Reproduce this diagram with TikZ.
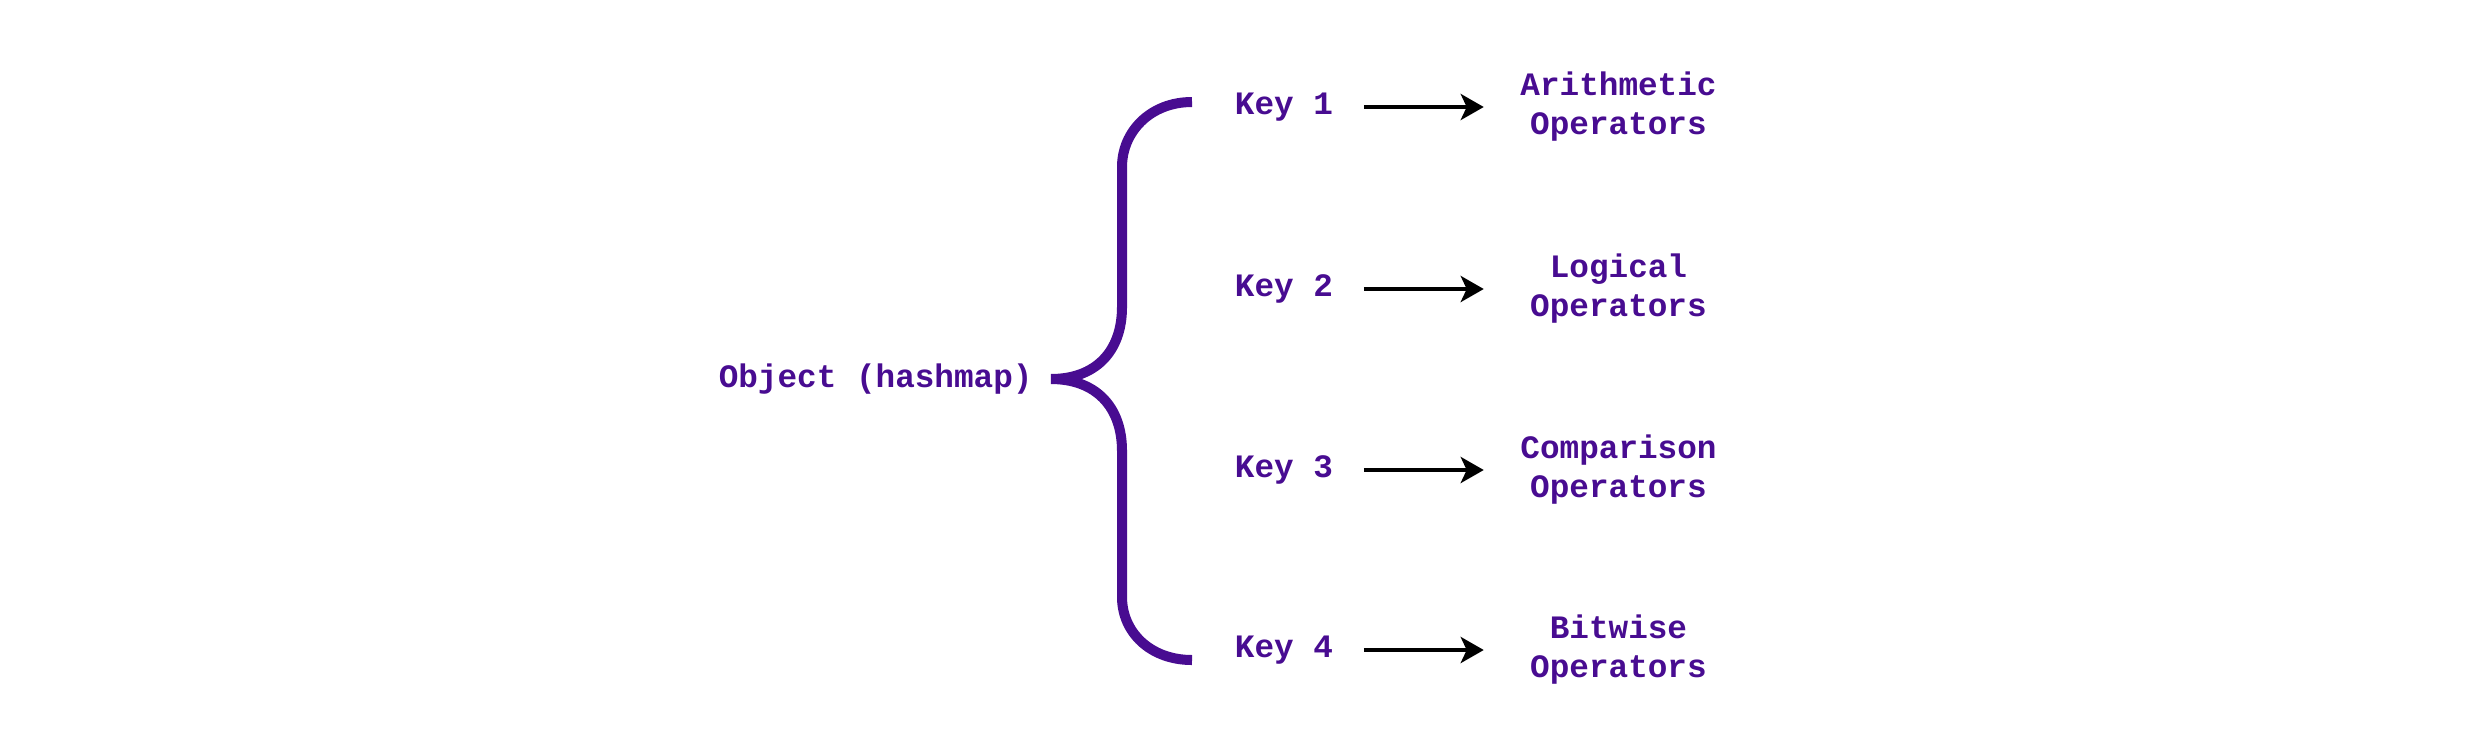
\documentclass[tikz,border=0pt]{standalone}
\usepackage{fontspec}
\newfontfamily\codefont{Liberation Mono}
\definecolor{hashpurple}{RGB}{72, 12, 145}
\usetikzlibrary{positioning, arrows.meta}

\begin{document}
\begin{tikzpicture}[
    node distance=1.2cm,
    lbl/.style={text=hashpurple, font=\codefont\bfseries\fontsize{9.3}{11.1}\selectfont},
    keybox/.style={lbl, inner xsep=0.3cm},
    opbox/.style={lbl, inner xsep=0.36cm, text width=1.96cm, align=center},
    brace/.style={draw=hashpurple, line width=2.85pt},
    arr/.style={-{Stealth[length=0.23cm, width=0.26cm, inset=0.06cm]}, line width=1.3pt, color=black}
  ]
    \useasboundingbox (0,0) rectangle (24.74,7.52);

    \coordinate (tip) at (10.51,3.73);
    \node[lbl, anchor=east] (obj) at (10.45,3.73) {Object (hashmap)};

    % the curly brace
    \draw[brace] (11.92,6.50) .. controls (11.50,6.50) and (11.22,6.20) .. (11.22,5.85)
      -- (11.22,4.45) .. controls (11.22,4.00) and (10.95,3.73) .. (tip)
      .. controls (10.95,3.73) and (11.22,3.46) .. (11.22,3.01)
      -- (11.22,1.55) .. controls (11.22,1.20) and (11.50,0.92) .. (11.92,0.92);

    \node[keybox] (key1) at (12.84,6.45) {Key 1};
    \node[keybox] (key2) at (12.84,4.63) {Key 2};
    \node[keybox] (key3) at (12.84,2.82) {Key 3};
    \node[keybox] (key4) at (12.84,1.02) {Key 4};

    \node[opbox, right=of key1] (arith) {Arithmetic\\ Operators};
    \node[opbox, right=of key2] (logic) {Logical\\ Operators};
    \node[opbox, right=of key3] (comp) {Comparison\\ Operators};
    \node[opbox, right=of key4] (bitw) {Bitwise\\ Operators};

    \draw[arr] (key1) -- (arith);
    \draw[arr] (key2) -- (logic);
    \draw[arr] (key3) -- (comp);
    \draw[arr] (key4) -- (bitw);
  \end{tikzpicture}
\end{document}
